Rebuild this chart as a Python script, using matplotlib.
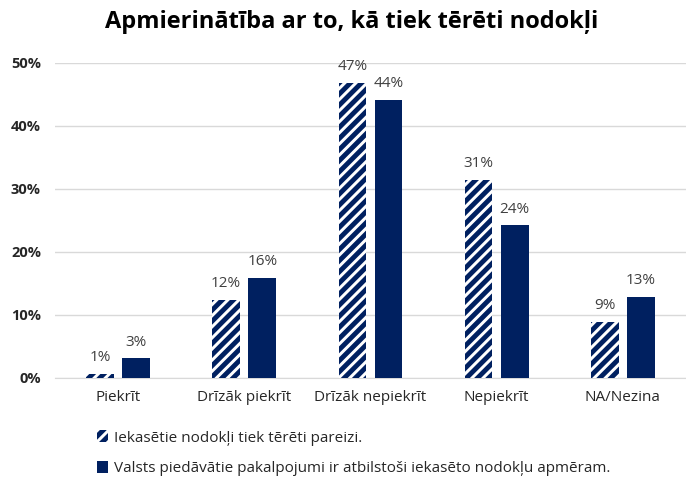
import matplotlib
matplotlib.use("Agg")
import matplotlib.pyplot as plt
import numpy as np

plt.rcParams['font.family'] = ['Open Sans', 'DejaVu Sans']
plt.rcParams['hatch.linewidth'] = 3.5

categories = ["Piekrīt", "Drīzāk piekrīt", "Drīzāk nepiekrīt", "Nepiekrīt", "NA/Nezina"]
series_names = ["Iekasētie nodokļi tiek tērēti pareizi.",
                "Valsts piedāvātie pakalpojumi ir atbilstoši iekasēto nodokļu apmēram."]
values_a = [0.7, 12.4, 46.8, 31.5, 8.9]
values_b = [3.1, 15.9, 44.2, 24.2, 12.8]
labels_a = ["1%", "12%", "47%", "31%", "9%"]
labels_b = ["3%", "16%", "44%", "24%", "13%"]

navy = "#002060"
x = np.arange(len(categories))
w = 0.22
off = 0.143

fig = plt.figure(figsize=(6.86, 4.79), dpi=100)
ax = fig.add_axes([0.080, 0.211, 0.92, 0.6575])

bars_a = ax.bar(x - off, values_a, w, color="white", edgecolor=navy, hatch="///",
                linewidth=0, label=series_names[0], zorder=3)
bars_b = ax.bar(x + off, values_b, w, color=navy, label=series_names[1], zorder=3)

for b, t in zip(bars_a, labels_a):
    ax.text(b.get_x() + b.get_width() / 2, b.get_height() + 1.4, t,
            ha="center", va="bottom", fontsize=11, color="#404040")
for b, t in zip(bars_b, labels_b):
    ax.text(b.get_x() + b.get_width() / 2, b.get_height() + 1.4, t,
            ha="center", va="bottom", fontsize=11, color="#404040")

ax.set_ylim(0, 50)
ax.set_xlim(-0.5, len(categories) - 0.5)
ax.set_yticks([0, 10, 20, 30, 40, 50])
ax.set_yticklabels([f"{v}%" for v in range(0, 60, 10)], fontsize=10.5,
                   fontweight="bold", color="#262626")
ax.set_xticks(x)
ax.set_xticklabels(categories, fontsize=11, color="#262626")
ax.tick_params(axis="x", length=0, pad=9)
ax.tick_params(axis="y", length=0, pad=10)
ax.grid(axis="y", color="#d9d9d9", linewidth=1, zorder=0)
for s in ["top", "right", "left"]:
    ax.spines[s].set_visible(False)
ax.spines["bottom"].set_color("#d9d9d9")

fig.text(0.513, 0.955, "Apmierinātība ar to, kā tiek tērēti nodokļi", ha="center",
         va="center", fontsize=17, fontweight="bold", color="black")

leg = fig.legend(handles=[bars_a, bars_b], loc="upper left",
                 frameon=False, fontsize=11, handlelength=0.7, handleheight=0.8,
                 handletextpad=0.4, labelspacing=1.0, labelcolor="#262626")
leg.set_bbox_to_anchor((0.122, 0.13), transform=fig.transFigure)

fig.savefig("out.png", dpi=100)
